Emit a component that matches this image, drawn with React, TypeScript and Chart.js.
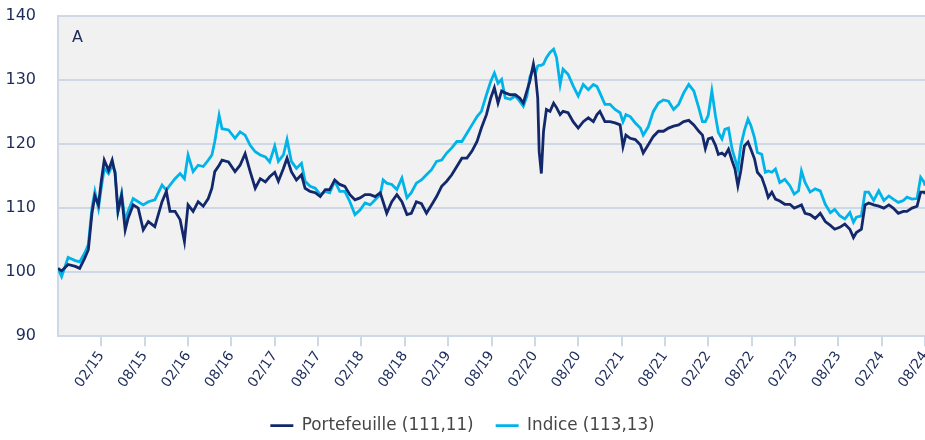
import { useEffect, useRef } from "react";
import { Chart, registerables } from "chart.js";

Chart.register(...registerables);

// x positions in months since 08/2014
const months = [
  0.0, 0.5, 1.4, 2.4, 3.0, 3.7, 4.2, 4.7, 5.1, 5.6, 6.0, 6.4, 7.0, 7.5, 7.9, 8.3, 8.8, 9.3, 9.7, 10.4,
  11.1, 11.8, 12.5, 13.4, 14.4, 15.0, 15.5, 16.2, 16.9, 17.5, 18.0, 18.7, 19.4, 20.1, 20.8, 21.3, 21.7, 22.3, 22.7, 23.6,
  24.5, 25.2, 25.9, 26.6, 27.3, 28.0, 28.7, 29.3, 30.0,
  30.5, 31.2, 31.7, 32.3, 33.0, 33.7, 34.2, 34.9, 35.6, 36.3, 37.0, 37.6, 38.3, 39.0, 39.7, 40.4, 41.1, 41.8, 42.5, 43.2,
  43.9, 44.6, 45.0, 45.5, 46.2, 46.9, 47.6, 48.3, 48.9, 49.6, 50.3, 51.0, 51.7, 52.4, 53.1, 53.8, 54.5, 55.2, 55.9, 56.6,
  57.3, 58.0, 58.6, 59.3, 59.9, 60.4, 60.9,
  61.4, 61.9, 62.6, 63.3, 63.9, 64.4, 64.9, 65.3, 65.8, 66.1, 66.4, 66.6, 66.9, 67.2, 67.6, 68.1, 68.6, 69.0, 69.5, 69.9,
  70.6, 71.3, 72.0, 72.7, 73.4, 74.1, 74.6, 75.0, 75.7, 76.4, 77.1, 77.8, 78.2, 78.6, 79.2, 79.9, 80.6, 81.0, 81.7, 82.4,
  83.1, 83.8, 84.5, 85.2, 85.9, 86.6, 87.3, 88.0, 88.7, 89.2,
  89.6, 90.0, 90.5, 91.0, 91.4, 91.9, 92.3, 92.8, 93.3, 93.7, 94.1, 94.5, 95.0, 95.5, 95.9, 96.4, 96.8, 97.4, 97.9, 98.3,
  98.8, 99.3, 99.9, 100.6, 101.3, 101.9, 102.5, 102.9, 103.4, 104.1, 104.8, 105.5, 106.2, 106.9, 107.5, 108.2, 108.9, 109.6, 110.1, 110.5,
  111.2, 111.7, 112.2, 112.9, 113.6, 114.3, 115.0, 115.6, 116.3, 117.0, 117.5, 118.2, 118.9, 119.4, 119.9, 120.0,
];

const portefeuille = [
  100.6, 100.2, 101.2, 100.9, 100.6, 102.2, 103.5, 109.2, 111.9, 110.5, 114.3, 117.5, 115.9, 117.5, 115.4, 109.5, 112.0, 106.6, 108.4, 110.5,
  110.0, 106.6, 107.9, 107.1, 111.0, 112.6, 109.5, 109.5, 108.2, 104.8, 110.5, 109.5, 111.0, 110.3, 111.5, 113.1, 115.7, 116.7, 117.5, 117.2,
  115.7, 116.7, 118.5, 115.7, 113.1, 114.6, 114.1, 114.9, 115.6,
  114.2, 116.2, 117.8, 115.7, 114.4, 115.2, 113.1, 112.6, 112.4, 111.8, 112.9, 112.9, 114.4, 113.7, 113.4, 112.1, 111.3, 111.6, 112.1, 112.1,
  111.8, 112.4, 111.0, 109.2, 111.0, 112.1, 111.0, 109.0, 109.2, 111.0, 110.7, 109.2, 110.5, 111.8, 113.4, 114.2, 115.2, 116.5, 117.8, 117.8,
  118.9, 120.4, 122.5, 124.6, 127.2, 128.8, 126.4,
  128.3, 128.0, 127.7, 127.7, 127.2, 126.4, 128.3, 129.8, 132.5, 130.6, 127.2, 118.8, 115.4, 122.0, 125.4, 125.1, 126.4, 125.7, 124.6, 125.1,
  124.9, 123.5, 122.5, 123.5, 124.1, 123.5, 124.6, 125.1, 123.5, 123.5, 123.3, 123.0, 119.6, 121.4, 120.9, 120.7, 119.9, 118.6, 119.9, 121.2,
  122.0, 122.0, 122.5, 122.8, 123.0, 123.5, 123.7, 123.0, 122.0, 121.4,
  119.3, 120.8, 121.0, 119.8, 118.4, 118.6, 118.2, 119.2, 117.4, 116.1, 113.5, 115.8, 119.7, 120.3, 119.2, 117.7, 115.6, 114.8, 113.2, 111.7,
  112.5, 111.4, 111.1, 110.6, 110.6, 110.0, 110.3, 110.5, 109.2, 109.0, 108.4, 109.2, 107.9, 107.3, 106.7, 107.0, 107.5, 106.7, 105.4, 106.2,
  106.7, 110.5, 110.8, 110.5, 110.3, 110.0, 110.5, 110.0, 109.2, 109.5, 109.5, 110.0, 110.3, 112.5, 112.5, 112.2,
];

const indice = [
  100.6, 99.3, 102.3, 101.8, 101.6, 103.0, 104.3, 110.0, 112.6, 110.0, 113.3, 116.2, 115.4, 116.7, 115.7, 109.5, 112.3, 107.9, 109.5, 111.5,
  111.0, 110.5, 111.0, 111.3, 113.6, 112.8, 113.6, 114.6, 115.4, 114.6, 118.3, 115.7, 116.7, 116.5, 117.5, 118.3, 120.4, 124.5, 122.4, 122.2,
  120.9, 121.9, 121.4, 119.8, 118.8, 118.3, 118.0, 117.2, 119.7,
  117.3, 118.3, 120.7, 117.3, 116.2, 117.0, 114.2, 113.4, 113.1, 112.1, 112.6, 112.4, 114.2, 112.6, 112.6, 111.0, 109.0, 109.7, 110.8, 110.5,
  111.3, 112.1, 114.4, 113.9, 113.7, 112.9, 114.7, 111.6, 112.4, 113.9, 114.4, 115.2, 116.0, 117.3, 117.5, 118.6, 119.4, 120.4, 120.4, 121.7,
  123.0, 124.3, 125.1, 127.7, 129.8, 131.1, 129.5,
  130.1, 127.2, 127.0, 127.5, 126.7, 125.9, 127.5, 130.4, 131.9, 131.1, 132.2, 132.3, 132.3, 132.5, 133.5, 134.3, 134.8, 133.5, 129.3, 131.7,
  130.9, 129.1, 127.5, 129.3, 128.5, 129.3, 129.0, 128.0, 126.2, 126.2, 125.4, 124.9, 123.5, 124.6, 124.3, 123.3, 122.5, 121.4, 122.7, 125.1,
  126.4, 126.9, 126.7, 125.4, 126.2, 128.0, 129.3, 128.3, 125.6, 123.5,
  123.5, 124.5, 128.3, 124.4, 121.8, 120.8, 122.3, 122.5, 119.2, 117.7, 116.1, 119.7, 122.1, 123.9, 122.9, 121.0, 118.7, 118.4, 115.6, 115.8,
  115.6, 116.1, 114.0, 114.5, 113.5, 112.2, 112.7, 115.8, 114.0, 112.5, 113.0, 112.7, 110.6, 109.3, 109.8, 108.8, 108.3, 109.3, 107.8, 108.6,
  108.8, 112.5, 112.5, 111.2, 112.7, 111.2, 111.9, 111.4, 110.9, 111.2, 111.7, 111.4, 111.5, 114.8, 114.0, 113.5,
];

const tickMonths = [6, 12, 18, 24, 30, 36, 42, 48, 54, 60, 66, 72, 78, 84, 90, 96, 102, 108, 114, 120];
const tickLabels = [
  "02/15", "08/15", "02/16", "08/16", "02/17", "08/17", "02/18", "08/18", "02/19", "08/19",
  "02/20", "08/20", "02/21", "08/21", "02/22", "08/22", "02/23", "08/23", "02/24", "08/24",
];
const yTicks = [90, 100, 110, 120, 130, 140];
const seriesNames = ["Portefeuille (111,11)", "Indice (113,13)"];
const panelLabel = "A";

const FONT = "'DejaVu Sans', Verdana, sans-serif";
const NAVY = "#13286a";
const CYAN = "#00b4ea";
const GRID = "#cfd9e6";
const TEXT = "#1c2b5a";

export default function App() {
  const ref = useRef<HTMLCanvasElement>(null);

  useEffect(() => {
    if (!ref.current) return;
    const bgPlugin = {
      id: "plotBg",
      beforeDraw(chart: any) {
        const { ctx, chartArea } = chart;
        ctx.save();
        ctx.fillStyle = "#f1f1f1";
        ctx.fillRect(chartArea.left, chartArea.top, chartArea.right - chartArea.left, chartArea.bottom - chartArea.top);
        ctx.restore();
      },
    };
    const labelPlugin = {
      id: "panelLabel",
      afterDatasetsDraw(chart: any) {
        const { ctx, chartArea } = chart;
        ctx.save();
        ctx.fillStyle = TEXT;
        ctx.font = `16px ${FONT}`;
        ctx.textBaseline = "alphabetic";
        ctx.fillText(panelLabel, chartArea.left + 14, chartArea.top + 26);
        ctx.restore();
      },
    };

    const chart = new Chart(ref.current, {
      type: "line",
      data: {
        datasets: [
          {
            label: seriesNames[0],
            data: months.map((m, i) => ({ x: m, y: portefeuille[i] })),
            borderColor: NAVY,
            backgroundColor: NAVY,
            borderWidth: 2.8,
            pointRadius: 0,
            tension: 0,
          },
          {
            label: seriesNames[1],
            data: months.map((m, i) => ({ x: m, y: indice[i] })),
            borderColor: CYAN,
            backgroundColor: CYAN,
            borderWidth: 2.8,
            pointRadius: 0,
            tension: 0,
          },
        ],
      },
      options: {
        animation: false,
        responsive: true,
        maintainAspectRatio: false,
        layout: { padding: { top: 16, left: 0, right: 0, bottom: -4 } },
        font: { family: FONT },
        plugins: {
          tooltip: { enabled: false },
          legend: {
            position: "bottom",
            labels: {
              usePointStyle: true,
              pointStyle: "line",
              pointStyleWidth: 23,
              boxHeight: 16,
              padding: 22,
              color: "#464646",
              font: { size: 16.8, family: FONT },
            },
          },
        },
        scales: {
          x: {
            type: "linear",
            min: 0,
            max: 120,
            afterBuildTicks(scale: any) {
              scale.ticks = tickMonths.map((v) => ({ value: v }));
            },
            afterFit(scale: any) {
              scale.height = 59;
              scale.paddingLeft = 0;
              scale.paddingRight = 0;
            },
            ticks: {
              autoSkip: false,
              maxRotation: 55,
              minRotation: 55,
              padding: 2,
              color: TEXT,
              font: { size: 14, family: FONT },
              callback: (v: any) => tickLabels[tickMonths.indexOf(Number(v))],
            },
            grid: { drawOnChartArea: false, drawTicks: true, tickLength: 10, color: GRID, lineWidth: 2 },
            border: { display: true, color: GRID, width: 2 },
          },
          y: {
            min: 90,
            max: 140,
            afterBuildTicks(scale: any) {
              scale.ticks = yTicks.map((v) => ({ value: v }));
            },
            afterFit(scale: any) {
              scale.width = 58;
              scale.paddingTop = 0;
              scale.paddingBottom = 0;
            },
            ticks: {
              padding: 22,
              color: TEXT,
              font: { size: 16, family: FONT },
            },
            grid: { color: GRID, lineWidth: 2, drawTicks: false },
            border: { display: true, color: GRID, width: 2 },
          },
        },
      },
      plugins: [bgPlugin, labelPlugin],
    } as any);

    return () => chart.destroy();
  }, []);

  return (
    <div style={{ position: "fixed", left: 0, top: 0, width: 925, height: 440, background: "#fff" }}>
      <canvas ref={ref} />
    </div>
  );
}
